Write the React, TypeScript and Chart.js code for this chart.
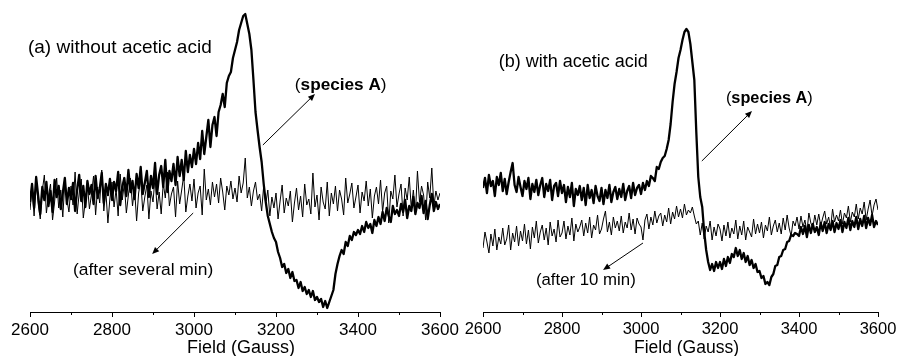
import React, { useEffect, useRef } from "react";
import { Chart, registerables } from "chart.js";

Chart.register(...registerables);

// ---------- data ----------
const FIELD_START = 2600; // Gauss
const FIELD_STEP = 5; // Gauss between samples
const FIELD_MIN = 2600;
const FIELD_MAX = 3600;
const MAJOR_STEP = 200;
const MINOR_TICKS = [2700, 2900, 3100, 3300, 3500];
const AXIS_TITLE = "Field (Gauss)";

// (a) without acetic acid — species A (thick)
const panelA_speciesA = [
  110, 128, 104, 135, 116, 98, 125, 112, 130, 106,
  121, 100, 132, 115, 126, 103, 119, 134, 108, 124,
  113, 129, 101, 122, 137, 111, 126, 105, 131, 118,
  127, 108, 136, 114, 123, 139, 109, 128, 117, 133,
  112, 130, 121, 140, 107, 125, 134, 116, 142, 120,
  131, 113, 138, 124, 145, 118, 129, 141, 115, 136,
  124, 149, 118, 137, 146, 125, 152, 120, 141, 131,
  148, 127, 155, 136, 152, 132, 161, 140, 157, 145,
  163, 148, 169, 153, 181, 158, 175, 192, 165, 187,
  195, 176, 200, 207, 218, 205, 229, 236, 240, 254,
  262, 270, 282, 289, 296, 298, 288, 278, 262, 232,
  200, 182, 165, 150, 128, 110, 96, 88, 80, 74,
  70, 60, 54, 45, 48, 39, 43, 34, 40, 31,
  32, 24, 30, 21, 25, 18, 22, 15, 21, 12,
  15, 10, 13, 5, 11, 4, 10, 16, 22, 38,
  48, 56, 62, 58, 70, 66, 76, 72, 80, 77,
  82, 78, 86, 80, 90, 84, 88, 79, 92, 86,
  95, 88, 100, 91, 104, 96, 90, 106, 98, 102,
  96, 108, 100, 112, 94, 106, 101, 115, 98, 109,
  104, 116, 99, 111, 93, 107, 118, 101, 110, 103,
  108,
];

// (a) after several min (thin)
const panelA_afterSeveralMin = [
  102, 124, 96, 130, 108, 93, 121, 137, 99, 116,
  128, 92, 110, 134, 104, 122, 95, 131, 113, 100,
  126, 107, 140, 98, 119, 133, 94, 111, 127, 103,
  118, 136, 97, 125, 109, 142, 101, 121, 89, 114,
  130, 105, 123, 96, 138, 112, 128, 99, 117, 134,
  106, 124, 91, 119, 132, 101, 115, 127, 93, 121,
  110, 135, 103, 120, 98, 129, 114, 140, 106, 118,
  125, 95, 131, 108, 122, 137, 100, 116, 128, 111,
  133, 104, 119, 126, 97, 143, 112, 123, 107, 130,
  115, 128, 109, 134, 120, 102, 126, 117, 131, 113,
  124, 110, 136, 119, 129, 154, 114, 125, 106, 121,
  130, 112, 118, 101, 126, 108, 122, 96, 115, 104,
  119, 93, 111, 127, 99, 114, 106, 121, 90, 109,
  124, 102, 116, 95, 128, 107, 113, 98, 139, 105,
  117, 92, 125, 110, 103, 130, 96, 119, 108, 126,
  101, 122, 113, 97, 134, 109, 118, 129, 104, 115,
  127, 99, 120, 111, 131, 106, 123, 94, 116, 125,
  108, 132, 100, 119, 126, 89, 121, 113, 137, 105,
  118, 128, 96, 124, 112, 135, 103, 122, 98, 141,
  110, 126, 117, 92, 130, 114, 144, 106, 121, 112,
  119,
];

// (b) with acetic acid — species A (thick)
const panelB_speciesA = [
  124, 134, 119, 137, 126, 131, 116, 135, 127, 139,
  121, 133, 118, 130, 140, 149, 127, 120, 135, 125,
  116, 131, 123, 134, 113, 128, 120, 132, 117, 127,
  134, 115, 128, 121, 132, 112, 126, 129, 116, 131,
  119, 127, 110, 125, 115, 129, 106, 123, 117, 126,
  112, 124, 107, 127, 114, 122, 109, 126, 116, 111,
  124, 108, 122, 114, 127, 110, 120, 125, 113, 123,
  115, 128, 112, 121, 126, 114, 129, 117, 124, 127,
  118, 129, 122, 131, 126, 136, 134, 131, 145, 143,
  150, 154, 156, 163, 172, 188, 210, 228, 240, 254,
  262, 272, 280, 283, 280, 268, 250, 232, 180, 135,
  115, 105, 80, 62, 50, 42, 48, 41, 50, 44,
  50, 43, 53, 46, 55, 49, 58, 55, 64, 56,
  62, 53, 59, 50, 56, 47, 52, 44, 48, 40,
  41, 34, 36, 28, 30, 27, 35, 38, 46, 47,
  55, 56, 62, 63, 70, 71, 77, 76, 79, 78,
  76, 85, 78, 86, 75, 87, 79, 88, 80, 85,
  77, 89, 81, 90, 79, 88, 82, 91, 80, 89,
  83, 92, 80, 90, 84, 94, 82, 91, 85, 95,
  83, 93, 86, 96, 84, 94, 87, 97, 85, 91,
  87,
];

// (b) after 10 min (thin)
const panelB_after10Min = [
  64, 80, 70, 59, 78, 66, 83, 62, 75, 68,
  84, 67, 73, 87, 62, 79, 70, 86, 66, 81,
  71, 88, 68, 82, 63, 85, 74, 91, 69, 80,
  87, 72, 84, 67, 90, 76, 83, 70, 92, 75,
  79, 91, 73, 86, 77, 94, 71, 88, 80, 85,
  92, 76, 89, 79, 95, 74, 87, 82, 97, 78,
  83, 93, 101, 80, 90, 77, 95, 84, 91, 81,
  96, 79, 90, 84, 99, 82, 93, 78, 94, 88,
  85, 72, 92, 98, 83, 95, 87, 101, 89, 96,
  99, 86, 97, 90, 104, 88, 100, 93, 106, 95,
  103, 94, 108, 97, 102, 99, 105, 96, 88, 91,
  77, 89, 73, 86, 80, 91, 72, 85, 76, 88,
  83, 71, 87, 76, 90, 74, 84, 78, 92, 73,
  86, 77, 91, 72, 85, 80, 75, 93, 78, 88,
  79, 90, 74, 87, 81, 95, 77, 86, 92, 80,
  89, 78, 94, 82, 97, 84, 76, 91, 86, 95,
  83, 96, 85, 92, 80, 99, 89, 84, 97, 87,
  98, 86, 94, 101, 88, 95, 84, 103, 90, 97,
  91, 102, 88, 99, 94, 106, 90, 100, 95, 108,
  93, 104, 98, 110, 92, 103, 112, 96, 107, 113,
  102,
];

// ---------- styling ----------
const FONT = "Arial, 'Liberation Sans', Helvetica, sans-serif";
const W = 897;
const H = 356;

type Part = { text: string; bold?: boolean };
type Label = { x: number; y: number; size: number; parts: Part[] };
type Arrow = { from: [number, number]; to: [number, number] };

function toPoints(values: number[]) {
  return values.map((v, i) => ({ x: FIELD_START + FIELD_STEP * i, y: v }));
}

const annotPlugin = {
  id: "eprAnnot",
  afterDraw(chart: any, _args: any, opts: any) {
    const { ctx, chartArea } = chart;
    const xs = chart.scales.x;
    const ys = chart.scales.y;
    ctx.save();
    ctx.strokeStyle = "#000";
    ctx.fillStyle = "#000";
    ctx.lineWidth = 1;
    // minor ticks
    for (const v of opts.minorTicks as number[]) {
      const px = Math.round(xs.getPixelForValue(v)) + 0.5;
      ctx.beginPath();
      ctx.moveTo(px, chartArea.bottom);
      ctx.lineTo(px, chartArea.bottom + 3);
      ctx.stroke();
    }
    // axis title
    ctx.font = `${opts.axisTitleSize}px ${FONT}`;
    ctx.textAlign = "center";
    ctx.textBaseline = "alphabetic";
    ctx.fillText(opts.axisTitle, (xs.left + xs.right) / 2 + opts.axisTitleShift, chartArea.bottom + opts.axisTitleOffset);
    // labels
    ctx.textAlign = "left";
    ctx.textBaseline = "middle";
    for (const lb of opts.labels as Label[]) {
      let px = xs.getPixelForValue(lb.x);
      const py = ys.getPixelForValue(lb.y);
      for (const p of lb.parts) {
        ctx.font = `${p.bold ? "bold " : ""}${lb.size}px ${FONT}`;
        ctx.fillText(p.text, px, py);
        px += ctx.measureText(p.text).width;
      }
    }
    // arrows
    for (const ar of opts.arrows as Arrow[]) {
      const x1 = xs.getPixelForValue(ar.from[0]);
      const y1 = ys.getPixelForValue(ar.from[1]);
      const x2 = xs.getPixelForValue(ar.to[0]);
      const y2 = ys.getPixelForValue(ar.to[1]);
      const ang = Math.atan2(y2 - y1, x2 - x1);
      const hl = 7;
      const hw = 3;
      ctx.lineWidth = 1;
      ctx.beginPath();
      ctx.moveTo(x1, y1);
      ctx.lineTo(x2 - Math.cos(ang) * hl * 0.8, y2 - Math.sin(ang) * hl * 0.8);
      ctx.stroke();
      ctx.beginPath();
      ctx.moveTo(x2, y2);
      ctx.lineTo(
        x2 - Math.cos(ang) * hl - Math.sin(ang) * hw,
        y2 - Math.sin(ang) * hl + Math.cos(ang) * hw
      );
      ctx.lineTo(
        x2 - Math.cos(ang) * hl + Math.sin(ang) * hw,
        y2 - Math.sin(ang) * hl - Math.cos(ang) * hw
      );
      ctx.closePath();
      ctx.fill();
    }
    ctx.restore();
  },
};

function makeConfig(
  thick: number[],
  thin: number[],
  padLeft: number,
  padRight: number,
  tickSize: number,
  axisTitleSize: number,
  labels: Label[],
  arrows: Arrow[]
): any {
  return {
    type: "line",
    data: {
      datasets: [
        {
          label: "species A",
          data: toPoints(thick),
          borderColor: "#000",
          borderWidth: 2.3,
          pointRadius: 0,
          tension: 0,
          borderJoinStyle: "round",
          fill: false,
        },
        {
          label: "after",
          data: toPoints(thin),
          borderColor: "#000",
          borderWidth: 1,
          pointRadius: 0,
          tension: 0,
          fill: false,
        },
      ],
    },
    options: {
      animation: false,
      responsive: false,
      events: [],
      parsing: false,
      layout: { padding: { left: padLeft, right: padRight, top: 12, bottom: 0 } },
      plugins: {
        legend: { display: false },
        tooltip: { enabled: false },
        eprAnnot: {
          minorTicks: MINOR_TICKS,
          axisTitle: AXIS_TITLE,
          axisTitleSize,
          axisTitleShift: 6,
          axisTitleOffset: 41,
          labels,
          arrows,
        },
      },
      scales: {
        x: {
          type: "linear",
          min: FIELD_MIN,
          max: FIELD_MAX,
          afterFit: (s: any) => {
            s.height = 44;
            s.paddingLeft = 0;
            s.paddingRight = 0;
          },
          ticks: {
            stepSize: MAJOR_STEP,
            autoSkip: false,
            maxRotation: 0,
            color: "#000",
            padding: 3,
            font: { family: FONT, size: tickSize },
            callback: (v: any) => String(v),
          },
          grid: {
            display: true,
            drawOnChartArea: false,
            drawTicks: true,
            tickLength: 5,
            tickColor: "#000",
            tickWidth: 1,
          },
          border: { display: true, color: "#000", width: 1 },
        },
        y: { display: false, min: 0, max: 300 },
      },
    },
    plugins: [annotPlugin],
  };
}

const labelsA: Label[] = [
  { x: 2595, y: 264, size: 19, parts: [{ text: "(a) without acetic acid" }] },
  { x: 3246, y: 227, size: 17.2, parts: [{ text: "(" }, { text: "species A", bold: true }, { text: ")" }] },
  { x: 2705, y: 42, size: 17.4, parts: [{ text: "(after several min)" }] },
];
const arrowsA: Arrow[] = [
  { from: [3168, 167], to: [3295, 218] },
  { from: [2998, 99], to: [2898, 58] },
];
const labelsB: Label[] = [
  { x: 2640, y: 250, size: 18, parts: [{ text: "(b) with acetic acid" }] },
  { x: 3215, y: 213, size: 16.3, parts: [{ text: "(" }, { text: "species A", bold: true }, { text: ")" }] },
  { x: 2734, y: 32, size: 16.8, parts: [{ text: "(after 10 min)" }] },
];
const arrowsB: Arrow[] = [
  { from: [3154, 151], to: [3281, 201] },
  { from: [3005, 69], to: [2904, 42] },
];

export default function App() {
  const leftRef = useRef<HTMLCanvasElement>(null);
  const rightRef = useRef<HTMLCanvasElement>(null);

  useEffect(() => {
    const a = new Chart(
      leftRef.current as HTMLCanvasElement,
      makeConfig(panelA_speciesA, panelA_afterSeveralMin, 30, W - 440, 17, 18, labelsA, arrowsA)
    );
    const b = new Chart(
      rightRef.current as HTMLCanvasElement,
      makeConfig(panelB_speciesA, panelB_after10Min, 483, W - 878, 16.5, 17.5, labelsB, arrowsB)
    );
    return () => {
      a.destroy();
      b.destroy();
    };
  }, []);

  return (
    <div style={{ position: "absolute", left: 0, top: 0, width: W, height: H, background: "#fff" }}>
      <canvas ref={leftRef} width={W} height={H} style={{ position: "absolute", left: 0, top: 0 }} />
      <canvas ref={rightRef} width={W} height={H} style={{ position: "absolute", left: 0, top: 0 }} />
    </div>
  );
}
